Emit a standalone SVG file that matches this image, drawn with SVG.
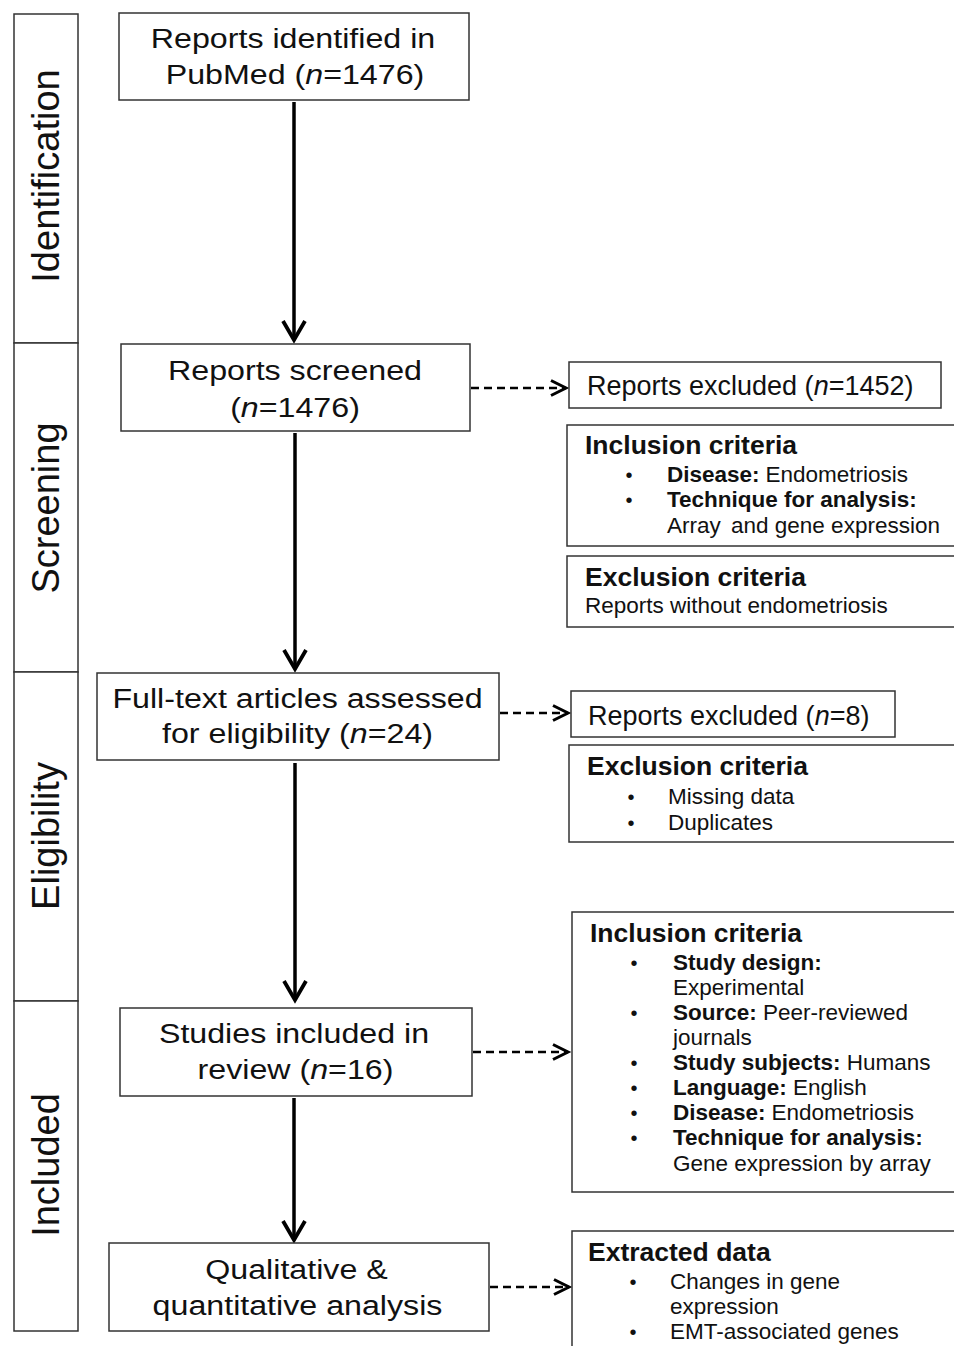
<svg xmlns="http://www.w3.org/2000/svg" width="954" height="1346" viewBox="0 0 954 1346">
<defs>
<style>
text{font-family:"Liberation Sans",Arial,Helvetica,sans-serif;fill:#111}
.box{fill:#fff;stroke:#333;stroke-width:1.5}
.main{font-size:28px;text-anchor:middle}
.sec{font-size:38px;text-anchor:middle}
.side{font-size:27px}
.title{font-size:26.5px;font-weight:bold}
.item{font-size:22.5px}
.bul{font-size:20px;text-anchor:middle}
.b{font-weight:bold}
.i{font-style:italic}
.solid{stroke:#000;stroke-width:3.5;fill:none}
.dash{stroke:#000;stroke-width:2.6;stroke-dasharray:8 5;fill:none}
</style>
<marker id="ah" markerUnits="userSpaceOnUse" markerWidth="30" markerHeight="30" viewBox="-22 -15 26 30" refX="0" refY="0" orient="auto">
<path d="M-19,-11 L0,0 L-19,11" fill="none" stroke="#000" stroke-width="3.8"/>
</marker>
<marker id="ahd" markerUnits="userSpaceOnUse" markerWidth="24" markerHeight="24" viewBox="-18 -12 21 24" refX="0" refY="0" orient="auto">
<path d="M-15,-7.5 L0,0 L-15,7.5" fill="none" stroke="#000" stroke-width="3"/>
</marker>
</defs>
<rect width="954" height="1346" fill="#fff"/>

<g id="sections">
<rect class="box" x="14" y="14" width="64" height="329"/>
<rect class="box" x="14" y="343" width="64" height="329"/>
<rect class="box" x="14" y="672" width="64" height="329"/>
<rect class="box" x="14" y="1001" width="64" height="330"/>
<text class="sec" transform="translate(59,176) rotate(-90)">Identification</text>
<text class="sec" transform="translate(59,508) rotate(-90)">Screening</text>
<text class="sec" transform="translate(59,836) rotate(-90)">Eligibility</text>
<text class="sec" transform="translate(59,1165) rotate(-90)">Included</text>
</g>

<g id="connectors">
<line class="solid" x1="294" y1="102" x2="294" y2="340" marker-end="url(#ah)"/>
<line class="solid" x1="295" y1="433" x2="295" y2="669" marker-end="url(#ah)"/>
<line class="solid" x1="295" y1="763" x2="295" y2="1000" marker-end="url(#ah)"/>
<line class="solid" x1="294" y1="1098" x2="294" y2="1240" marker-end="url(#ah)"/>
<line class="dash" x1="471" y1="388" x2="566" y2="388" marker-end="url(#ahd)"/>
<line class="dash" x1="500" y1="713" x2="568" y2="713" marker-end="url(#ahd)"/>
<line class="dash" x1="473" y1="1052" x2="568" y2="1052" marker-end="url(#ahd)"/>
<line class="dash" x1="490" y1="1287" x2="569" y2="1287" marker-end="url(#ahd)"/>
</g>

<g id="identified">
<rect class="box" x="119" y="13" width="350" height="87"/>
<text class="main" transform="translate(293,48) scale(1.15,1)">Reports identified in</text>
<text class="main" transform="translate(295,84) scale(1.15,1)">PubMed (<tspan class="i">n</tspan>=1476)</text>
</g>

<g id="screened">
<rect class="box" x="121" y="344" width="349" height="87"/>
<text class="main" transform="translate(295,380) scale(1.15,1)">Reports screened</text>
<text class="main" transform="translate(295,417) scale(1.15,1)">(<tspan class="i">n</tspan>=1476)</text>
</g>

<g id="excluded1">
<rect class="box" x="569" y="362" width="372" height="46"/>
<text class="side" x="587" y="395">Reports excluded (<tspan class="i">n</tspan>=1452)</text>
</g>

<g id="inclusion1">
<rect class="box" x="567" y="425" width="400" height="121"/>
<text class="title" x="585" y="454">Inclusion criteria</text>
<text class="bul" x="629" y="482">•</text>
<text class="item" x="667" y="482"><tspan class="b">Disease:</tspan><tspan dx="6">Endometriosis</tspan></text>
<text class="bul" x="629" y="507">•</text>
<text class="item b" x="667" y="507">Technique for analysis:</text>
<text class="item" x="667" y="533">Array <tspan dx="4">and gene expression</tspan></text>
</g>

<g id="exclusion1">
<rect class="box" x="567" y="556" width="400" height="71"/>
<text class="title" x="585" y="586">Exclusion criteria</text>
<text class="item" x="585" y="613">Reports without endometriosis</text>
</g>

<g id="fulltext">
<rect class="box" x="97" y="673" width="402" height="87"/>
<text class="main" transform="translate(297.5,708) scale(1.15,1)">Full-text articles assessed</text>
<text class="main" transform="translate(297.5,743) scale(1.15,1)">for eligibility (<tspan class="i">n</tspan>=24)</text>
</g>

<g id="excluded2">
<rect class="box" x="571" y="691" width="324" height="46"/>
<text class="side" x="588" y="725">Reports excluded (<tspan class="i">n</tspan>=8)</text>
</g>

<g id="exclusion2">
<rect class="box" x="569" y="745" width="400" height="97"/>
<text class="title" x="587" y="775">Exclusion criteria</text>
<text class="bul" x="631" y="804">•</text>
<text class="item" x="668" y="804">Missing data</text>
<text class="bul" x="631" y="830">•</text>
<text class="item" x="668" y="830">Duplicates</text>
</g>

<g id="included">
<rect class="box" x="120" y="1008" width="352" height="88"/>
<text class="main" transform="translate(294,1043) scale(1.15,1)">Studies included in</text>
<text class="main" transform="translate(295.5,1079) scale(1.15,1)">review (<tspan class="i">n</tspan>=16)</text>
</g>

<g id="inclusion2">
<rect class="box" x="572" y="912" width="400" height="280"/>
<text class="title" x="590" y="942">Inclusion criteria</text>
<text class="bul" x="634" y="970">•</text>
<text class="item b" x="673" y="970">Study design:</text>
<text class="item" x="673" y="995">Experimental</text>
<text class="bul" x="634" y="1020">•</text>
<text class="item" x="673" y="1020"><tspan class="b">Source:</tspan> Peer-reviewed</text>
<text class="item" x="673" y="1045">journals</text>
<text class="bul" x="634" y="1070">•</text>
<text class="item" x="673" y="1070"><tspan class="b">Study subjects:</tspan> Humans</text>
<text class="bul" x="634" y="1095">•</text>
<text class="item" x="673" y="1095"><tspan class="b">Language:</tspan> English</text>
<text class="bul" x="634" y="1120">•</text>
<text class="item" x="673" y="1120"><tspan class="b">Disease:</tspan><tspan dx="6">Endometriosis</tspan></text>
<text class="bul" x="634" y="1145">•</text>
<text class="item b" x="673" y="1145">Technique for analysis:</text>
<text class="item" x="673" y="1171">Gene expression by array</text>
</g>

<g id="analysis">
<rect class="box" x="109" y="1243" width="380" height="88"/>
<text class="main" transform="translate(296.5,1279) scale(1.15,1)">Qualitative &amp;</text>
<text class="main" transform="translate(297.5,1315) scale(1.15,1)">quantitative analysis</text>
</g>

<g id="extracted">
<rect class="box" x="572" y="1231" width="400" height="140"/>
<text class="title" x="588" y="1261">Extracted data</text>
<text class="bul" x="633" y="1289">•</text>
<text class="item" x="670" y="1289">Changes in gene</text>
<text class="item" x="670" y="1314">expression</text>
<text class="bul" x="633" y="1339">•</text>
<text class="item" x="670" y="1339">EMT-associated genes</text>
</g>
</svg>
